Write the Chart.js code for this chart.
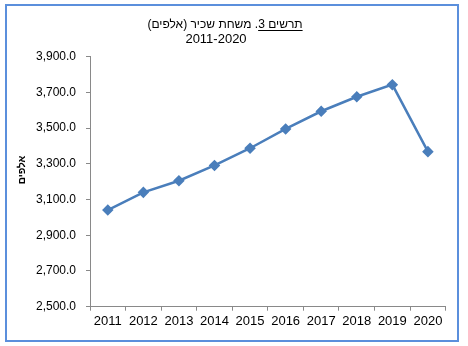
<!DOCTYPE html>
<html>
<head>
<meta charset="utf-8">
<script src="https://cdn.jsdelivr.net/npm/chart.js@4"></script>
<style>
    html, body { margin: 0; padding: 0; background: #ffffff; }
    #wrap { position: relative; width: 468px; height: 346px; }
    #chart { position: absolute; left: 0; top: 0; }
    #frame {
        position: absolute;
        left: 5px; top: 4px;
        width: 450px; height: 334px;
        border: 2px solid #5b8fdc;
        pointer-events: none;
    }
</style>
</head>
<body>
<div id="wrap">
    <canvas id="chart" width="468" height="346"></canvas>
    <div id="frame"></div>
</div>
<script>

const years = ["2011", "2012", "2013", "2014", "2015", "2016", "2017", "2018", "2019", "2020"];
const jobs = [3041, 3140, 3205, 3291, 3387, 3495, 3594, 3675, 3743, 3368];

const titleLine1 = "תרשים 3. משחת שכיר (אלפים)";
const titleUnderlined = "תרשים 3";
const titleLine2 = "2011-2020";
const yAxisTitle = "אלפים";

const lineColor = "#4a7ebb";


// title lines and the rotated unit label
const textPlugin = {

    id: "texts",

    afterDraw(chart) {

        const ctx = chart.ctx;
        ctx.save();

        ctx.fillStyle = "#000000";
        ctx.font = "12px 'Liberation Sans', Arial, sans-serif";
        ctx.textBaseline = "alphabetic";
        ctx.direction = "rtl";
        ctx.textAlign = "center";

        const cx = 225;
        const w = ctx.measureText(titleLine1).width;
        ctx.fillText(titleLine1, cx, 28);

        // underline under the figure number, right end of the rtl line
        const uw = ctx.measureText(titleUnderlined).width;
        ctx.strokeStyle = "#000000";
        ctx.lineWidth = 1;
        ctx.beginPath();
        ctx.moveTo(cx + w / 2 - uw, 30.5);
        ctx.lineTo(cx + w / 2, 30.5);
        ctx.stroke();

        ctx.direction = "ltr";
        ctx.font = "13px 'Liberation Sans', Arial, sans-serif";
        ctx.fillText(titleLine2, 216, 43);

        ctx.translate(22, 170);
        ctx.rotate(-Math.PI / 2);
        ctx.direction = "rtl";
        ctx.font = "bold 10px 'Liberation Sans', Arial, sans-serif";
        ctx.textBaseline = "middle";
        ctx.fillText(yAxisTitle, 0, 0);

        ctx.restore();
    }
};


const ctx = document.getElementById("chart");

new Chart(ctx, {

    type: "line",

    data: {
        labels: years,
        datasets: [{
            data: jobs,
            borderColor: lineColor,
            backgroundColor: lineColor,
            borderWidth: 2.5,
            pointStyle: "rectRot",
            pointRadius: 4,
            pointHoverRadius: 4,
            fill: false,
            tension: 0
        }]
    },

    options: {

        responsive: false,
        animation: false,
        events: [],

        layout: {
            padding: { left: 0, top: 56.6, right: 22.3, bottom: 0 }
        },

        plugins: {
            legend: { display: false },
            title: { display: false },
            tooltip: { enabled: false }
        },

        scales: {

            x: {
                type: "category",
                offset: true,
                grid: {
                    offset: true,
                    drawOnChartArea: false,
                    drawTicks: true,
                    tickLength: 4,
                    color: "#898989"
                },
                border: { color: "#898989", width: 1 },
                ticks: {
                    color: "#000000",
                    padding: 3,
                    maxRotation: 0,
                    font: { family: "'Liberation Sans', Arial, sans-serif", size: 13 }
                },
                afterFit(scale) {
                    scale.height = 39.3;
                }
            },

            y: {
                min: 2500,
                max: 3900,
                grid: {
                    drawOnChartArea: false,
                    drawTicks: true,
                    tickLength: 4,
                    color: "#898989"
                },
                border: { color: "#898989", width: 1 },
                ticks: {
                    stepSize: 200,
                    color: "#000000",
                    padding: 10,
                    font: { family: "'Liberation Sans', Arial, sans-serif", size: 12 },
                    callback: value => value.toLocaleString("en-US", {
                        minimumFractionDigits: 1,
                        maximumFractionDigits: 1
                    })
                },
                afterFit(scale) {
                    scale.width = 90;
                }
            }
        }
    },

    plugins: [textPlugin]
});

</script>
</body>
</html>
